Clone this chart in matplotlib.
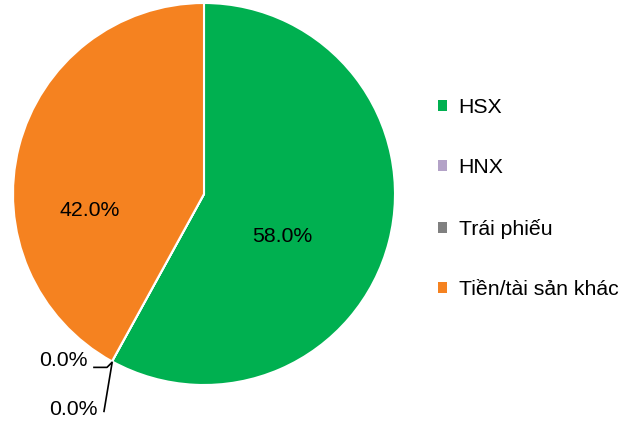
import numpy as np
import matplotlib.pyplot as plt
from matplotlib.patches import Patch

# Data
labels = ['HSX', 'HNX', 'Trái phiếu', 'Tiền/tài sản khác']
values = [58.0, 0.0, 0.0, 42.0]
colors = ['#00B050', '#B3A2C7', '#808080', '#F58220']

plt.rcParams['font.family'] = ['Liberation Sans', 'DejaVu Sans']
fs = 15.3

W, H = 641, 424
fig = plt.figure(figsize=(W / 100, H / 100), dpi=100)
ax = fig.add_axes([0, 0, 1, 1])

cx, cy, r = 204, H - 194, 191
wedges, _ = ax.pie(values, colors=colors, startangle=90, counterclock=False,
                   center=(cx, cy), radius=r, frame=True,
                   wedgeprops=dict(edgecolor='white', linewidth=1.5))
ax.set_xlim(0, W)
ax.set_ylim(0, H)
ax.set_aspect('equal')
ax.axis('off')

# labels for non-zero slices
pct_pos = {0: (282, H - 236), 3: (90, H - 211)}
for i, (x, y) in pct_pos.items():
    ax.text(x, y, f'{values[i]:.1f}%', ha='center', va='center', fontsize=fs)

# zero slices: leader lines from the boundary point
ang = np.deg2rad(wedges[1].theta1)
bx, by = cx + r * np.cos(ang), cy + r * np.sin(ang)
ax.plot([bx, bx - 5, bx - 18], [by - 1, by - 6, by - 6], color='black', lw=1.2)
ax.text(bx - 24, by + 1, f'{values[1]:.1f}%', ha='right', va='center', fontsize=fs)
ax.plot([bx, bx - 8], [by - 2, by - 50], color='black', lw=1.2)
ax.text(bx - 14, by - 48, f'{values[2]:.1f}%', ha='right', va='center', fontsize=fs)

handles = [Patch(facecolor=c, edgecolor='none') for c in colors]
ax.legend(handles, labels, loc='upper left', bbox_to_anchor=(438 / W, 1 - 98 / H),
          frameon=False, fontsize=fs, handlelength=0.42, handleheight=0.42,
          handletextpad=0.55, labelspacing=1.95, borderaxespad=0, borderpad=0)

fig.savefig('out.png', dpi=100)
